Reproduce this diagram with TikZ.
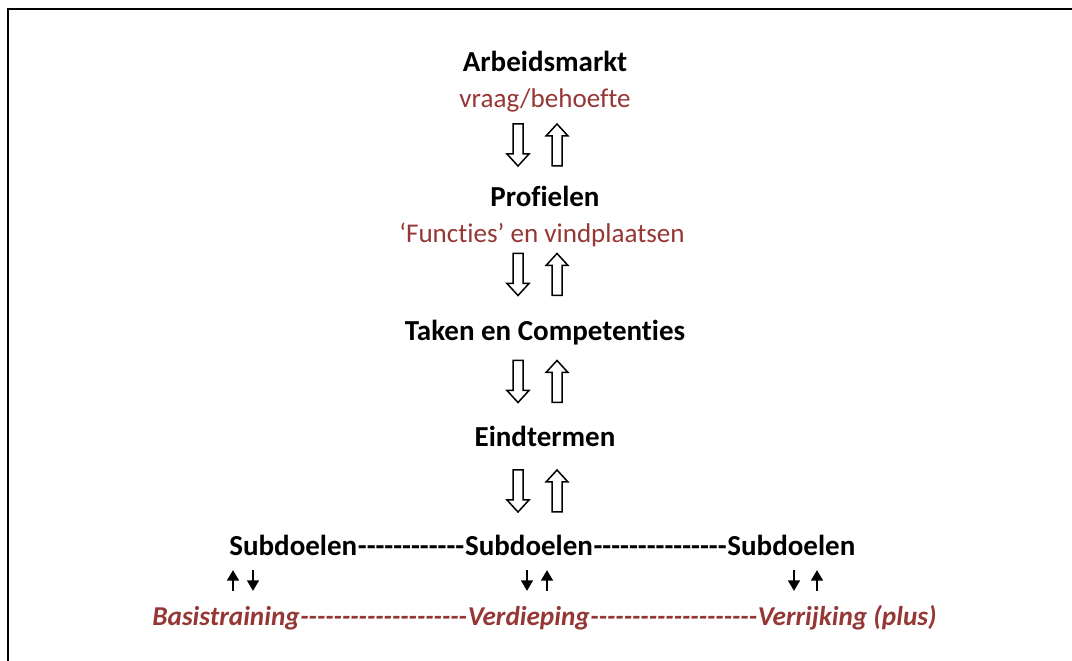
\documentclass[tikz,border=0pt]{standalone}
\usepackage{fontspec}
\setmainfont{Carlito}[Ligatures={TeXOff,NoCommon}]
\usetikzlibrary{arrows.meta}
\definecolor{darkred}{RGB}{149,55,53}

\tikzset{
    hollowdown/.pic={
        \draw[line width=0.85pt] (-5,-21) -- (5,-21) -- (5,9) -- (11,9) -- (0,21) -- (-11,9) -- (-5,9) -- cycle;
    },
    hollowup/.pic={
        \draw[line width=0.85pt] (-5,21) -- (5,21) -- (5,-9) -- (11,-9) -- (0,-21) -- (-11,-9) -- (-5,-9) -- cycle;
    }
}

\begin{document}
\begin{tikzpicture}[x=0.02cm, y=-0.02cm,
    title/.style={font=\fontsize{16.5}{20}\selectfont\bfseries, anchor=base, inner sep=0pt},
    note/.style={font=\fontsize{15.4}{19}\selectfont, text=darkred, anchor=base, inner sep=0pt},
    level/.style={font=\fontsize{15.5}{19}\selectfont\bfseries\itshape, text=darkred, anchor=base west, inner sep=0pt},
    smallarrow/.style={line width=1.5pt, -{Triangle[length=6pt, width=6.5pt]}}]
    \useasboundingbox (0,0) rectangle (1072,661);
    % Frame
    \draw[line width=1.1pt] (8,661) -- (8,9) -- (1072,9);
    % Levels
    \node[title] (arbeid) at (545,72) {Arbeidsmarkt};
    \node[note] (vraag) at (545,108) {vraag/behoefte};
    \node[title] (profiel) at (545,207) {Profielen};
    \node[note] (functie) at (542,243) {‘Functies’ en vindplaatsen};
    \node[title] (taken) at (545,341) {Taken en Competenties};
    \node[title] (eind) at (545,447) {Eindtermen};
    % Hollow arrows
    \foreach \y in {145,274.5,381.5,491} {
        \pic at (518,\y) {hollowdown};
        \pic at (557,\y) {hollowup};
    }
    % Subdoelen
    \node[title, anchor=base west] (sub-1) at (229,556) {Subdoelen};
    \node[title, anchor=base west] (dash-1) at (sub-1.base east) {------------};
    \node[title, anchor=base west] (sub-2) at (dash-1.base east) {Subdoelen};
    \node[title, anchor=base west] (dash-2) at (sub-2.base east) {---------------};
    \node[title, anchor=base west] (sub-3) at (dash-2.base east) {Subdoelen};
    % Small arrows
    \foreach \i/\x/\ya/\yb in {1/233/591/570,2/253/570/591,3/527/570/591,4/547/591/570,5/794/570/591,6/817/591/570} {
        \coordinate (from-\i) at (\x,\ya);
        \coordinate (to-\i) at (\x,\yb);
        \draw[smallarrow] (from-\i) -- (to-\i);
    }
    % Training
    \node[level] (basis) at (152,626) {Basistraining};
    \node[level] (dash-3) at (basis.base east) {--------------------};
    \node[level] (verdiep) at (dash-3.base east) {Verdieping};
    \node[level] (dash-4) at (verdiep.base east) {--------------------};
    \node[level] (verrijk) at (dash-4.base east) {Verrijking (plus)};
\end{tikzpicture}
\end{document}
